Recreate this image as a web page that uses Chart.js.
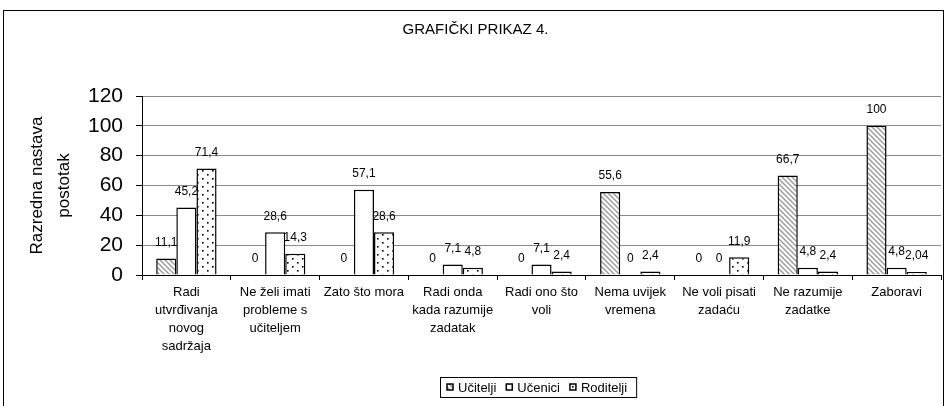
<!DOCTYPE html>
<html>
<head>
<meta charset="utf-8">
<script src="https://cdn.jsdelivr.net/npm/chart.js@4.4.0/dist/chart.umd.min.js"></script>
<style>
  html, body { margin: 0; padding: 0; background: #fff; }
  #wrap { width: 947px; height: 406px; }
</style>
</head>
<body>
<div id="wrap"><canvas id="chart" width="947" height="406"></canvas></div>
<script>
// categories (x axis), wrapped like the original
const categories = [
    ["Radi", "utvrđivanja", "novog", "sadržaja"],
    ["Ne želi imati", "probleme s", "učiteljem"],
    ["Zato što mora"],
    ["Radi onda", "kada razumije", "zadatak"],
    ["Radi ono što", "voli"],
    ["Nema uvijek", "vremena"],
    ["Ne voli pisati", "zadaću"],
    ["Ne razumije", "zadatke"],
    ["Zaboravi"]
];
const seriesNames = ["Učitelji", "Učenici", "Roditelji"];
const ucitelji = [11.1, 0, 0, 0, 0, 55.6, 0, 66.7, 100];
const ucenici = [45.2, 28.6, 57.1, 7.1, 7.1, 0, 0, 4.8, 4.8];
const roditelji = [71.4, 14.3, 28.6, 4.8, 2.4, 2.4, 11.9, 2.4, 2.04];
const yMin = 0, yMax = 120, yStep = 20;

const FONT = '"Liberation Sans", Arial, sans-serif';

// fill patterns
const makeHatch = () => {
    const c = document.createElement("canvas");
    c.width = 5; c.height = 5;
    const g = c.getContext("2d");
    g.fillStyle = "#fff";
    g.fillRect(0, 0, 5, 5);
    g.strokeStyle = "#9a9a9a";
    g.lineWidth = 1.4;
    g.beginPath();
    g.moveTo(-1, -1); g.lineTo(6, 6);
    g.moveTo(-1, 4); g.lineTo(1, 6);
    g.moveTo(4, -1); g.lineTo(6, 1);
    g.stroke();
    return g.createPattern(c, "repeat");
};
const makeDots = () => {
    const c = document.createElement("canvas");
    c.width = 10; c.height = 8;
    const g = c.getContext("2d");
    g.fillStyle = "#fff";
    g.fillRect(0, 0, 10, 8);
    g.fillStyle = "#000";
    g.fillRect(2, 2, 1.6, 1.6);
    g.fillRect(7, 6, 1.6, 1.6);
    return g.createPattern(c, "repeat");
};

const fmt = v => String(v).replace(".", ",");

// white background + outer frame
const framePlugin = {
    id: "frame",
    beforeDraw(chart) {
        const ctx = chart.ctx;
        ctx.save();
        ctx.fillStyle = "#fff";
        ctx.fillRect(0, 0, chart.width, chart.height);
        ctx.strokeStyle = "#000";
        ctx.lineWidth = 1;
        ctx.strokeRect(3.5, 10.5, 940, 500);
        ctx.restore();
    }
};

// value labels above each bar
const valueLabels = {
    id: "valueLabels",
    afterDatasetsDraw(chart) {
        const ctx = chart.ctx;
        ctx.save();
        ctx.font = "12px " + FONT;
        ctx.fillStyle = "#000";
        ctx.textAlign = "center";
        ctx.textBaseline = "middle";
        chart.data.datasets.forEach((ds, i) => {
            chart.getDatasetMeta(i).data.forEach((bar, j) => {
                ctx.fillText(fmt(ds.data[j]), bar.x, bar.y - 16);
            });
        });
        ctx.restore();
    }
};

// boxed legend like the Excel one
const boxLegend = {
    id: "boxLegend",
    afterDraw(chart, args, opts) {
        const ctx = chart.ctx;
        ctx.save();
        ctx.font = "13px " + FONT;
        ctx.textBaseline = "middle";
        ctx.textAlign = "left";
        const midY = opts.top + opts.height / 2;
        let x = opts.left + 7;
        chart.data.datasets.forEach(ds => {
            ctx.fillStyle = ds.backgroundColor;
            ctx.fillRect(x, midY - 3, 6, 6);
            ctx.strokeStyle = "#000";
            ctx.lineWidth = 1.5;
            ctx.strokeRect(x, midY - 3, 6, 6);
            x += 11;
            ctx.fillStyle = "#000";
            ctx.fillText(ds.label, x, midY + 1);
            x += ctx.measureText(ds.label).width + 10;
        });
        const right = x - 10 + 9;
        ctx.lineWidth = 1;
        ctx.strokeStyle = "#000";
        ctx.strokeRect(opts.left + 0.5, opts.top + 0.5, right - opts.left, opts.height);
        ctx.restore();
    }
};

const barStyle = {
    borderColor: "#000",
    borderWidth: 1.5,
    categoryPercentage: 0.68,
    barPercentage: 1.0
};

new Chart(document.getElementById("chart"), {
    type: "bar",
    data: {
        labels: categories,
        datasets: [
            Object.assign({ label: seriesNames[0], data: ucitelji, backgroundColor: makeHatch() }, barStyle),
            Object.assign({ label: seriesNames[1], data: ucenici, backgroundColor: "#fff" }, barStyle),
            Object.assign({ label: seriesNames[2], data: roditelji, backgroundColor: makeDots() }, barStyle)
        ]
    },
    options: {
        responsive: false,
        devicePixelRatio: 1,
        animation: false,
        layout: { padding: { left: 10, right: 6, top: 0, bottom: 51 } },
        plugins: {
            legend: { display: false },
            tooltip: { enabled: false },
            title: {
                display: true,
                text: "GRAFIČKI PRIKAZ 4.",
                color: "#000",
                font: { family: FONT, size: 15, weight: "normal" },
                padding: { top: 21, bottom: 57 }
            },
            boxLegend: { left: 440, top: 377, height: 20 }
        },
        scales: {
            x: {
                grid: {
                    offset: true,
                    drawOnChartArea: false,
                    drawTicks: true,
                    tickLength: 5,
                    tickColor: "#000"
                },
                border: { color: "#000", width: 1 },
                ticks: {
                    color: "#000",
                    autoSkip: false,
                    maxRotation: 0,
                    padding: 3,
                    font: { family: FONT, size: 13, lineHeight: 1.385 }
                },
                afterFit: s => { s.height = 80; }
            },
            y: {
                min: yMin,
                max: yMax,
                ticks: {
                    stepSize: yStep,
                    color: "#000",
                    padding: 13,
                    font: { family: FONT, size: 21 }
                },
                grid: {
                    color: "#8a8a8a",
                    lineWidth: 1,
                    tickLength: 6,
                    tickColor: "#000"
                },
                border: { color: "#000", width: 1 },
                title: {
                    display: true,
                    text: ["Razredna nastava", "postotak"],
                    color: "#000",
                    font: { family: FONT, size: 17, lineHeight: 1.6 },
                    padding: { top: 14, bottom: 0 }
                },
                afterFit: s => { s.width = 132; }
            }
        }
    },
    plugins: [framePlugin, valueLabels, boxLegend]
});
</script>
</body>
</html>
